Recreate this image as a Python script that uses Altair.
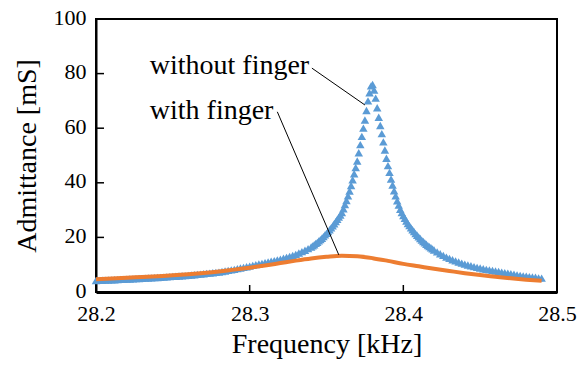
import altair as alt
import pandas as pd

# ---------------- data ----------------
# "without finger" (blue triangles): frequency [kHz] and admittance [mS]
blue_freq = [
    28.200, 28.202, 28.204, 28.206, 28.208, 28.210, 28.212, 28.214, 28.216, 28.218,
    28.220, 28.222, 28.224, 28.226, 28.228, 28.230, 28.232, 28.234, 28.236, 28.238,
    28.240, 28.242, 28.244, 28.246, 28.248, 28.250, 28.252, 28.254, 28.256, 28.258,
    28.260, 28.262, 28.264, 28.266, 28.268, 28.270, 28.272, 28.274, 28.276, 28.278,
    28.280, 28.282, 28.284, 28.286, 28.288, 28.290, 28.292, 28.294, 28.296, 28.298,
    28.300, 28.302, 28.304, 28.306, 28.308, 28.310, 28.312, 28.314, 28.316, 28.318,
    28.320, 28.322, 28.324, 28.326, 28.328, 28.330, 28.332, 28.334, 28.336, 28.338,
    28.340, 28.341, 28.342, 28.343, 28.344, 28.345, 28.346, 28.347, 28.348, 28.349,
    28.350, 28.351, 28.352, 28.353, 28.354, 28.355, 28.356, 28.357, 28.358, 28.359,
    28.360, 28.361, 28.362, 28.363, 28.364, 28.365, 28.366, 28.367, 28.368, 28.369,
    28.370, 28.371, 28.372, 28.373, 28.374, 28.375, 28.376, 28.377, 28.378, 28.379,
    28.380, 28.381, 28.382, 28.383, 28.384, 28.385, 28.386, 28.387, 28.388, 28.389,
    28.390, 28.391, 28.392, 28.393, 28.394, 28.395, 28.396, 28.397, 28.398, 28.399,
    28.400, 28.401, 28.402, 28.403, 28.404, 28.405, 28.406, 28.407, 28.408, 28.409,
    28.410, 28.411, 28.412, 28.413, 28.414, 28.415, 28.416, 28.417, 28.418, 28.419,
    28.420, 28.422, 28.424, 28.426, 28.428, 28.430, 28.432, 28.434, 28.436, 28.438,
    28.440, 28.442, 28.444, 28.446, 28.448, 28.450, 28.452, 28.454, 28.456, 28.458,
    28.460, 28.462, 28.464, 28.466, 28.468, 28.470, 28.472, 28.474, 28.476, 28.478,
    28.480, 28.482, 28.484, 28.486, 28.488, 28.490,
]
blue_adm = [
    4.20, 4.25, 4.30, 4.35, 4.40, 4.45, 4.50, 4.55, 4.60, 4.65,
    4.70, 4.76, 4.82, 4.88, 4.94, 5.00, 5.06, 5.12, 5.18, 5.24,
    5.30, 5.38, 5.46, 5.54, 5.62, 5.70, 5.78, 5.86, 5.94, 6.02,
    6.10, 6.21, 6.32, 6.44, 6.56, 6.68, 6.80, 6.93, 7.06, 7.18,
    7.30, 7.50, 7.70, 7.90, 8.10, 8.30, 8.55, 8.80, 9.00, 9.25,
    9.50, 9.75, 10.00, 10.25, 10.50, 10.75, 11.00, 11.25, 11.50, 11.75,
    12.00, 12.35, 12.70, 13.05, 13.40, 13.80, 14.30, 14.80, 15.30, 15.90,
    16.50, 16.90, 17.30, 17.80, 18.20, 18.70, 19.20, 19.70, 20.30, 20.90,
    21.50, 22.10, 22.80, 23.50, 24.20, 25.00, 25.80, 26.60, 27.40, 28.20,
    29.10, 30.50, 32.00, 33.50, 35.20, 37.00, 39.00, 41.10, 43.30, 45.60,
    48.00, 51.00, 54.00, 57.00, 60.00, 63.00, 66.50, 70.00, 73.00, 75.50,
    76.00, 74.00, 71.00, 67.50, 64.00, 61.00, 58.00, 55.00, 52.00, 49.00,
    46.30, 43.80, 41.40, 39.20, 37.10, 35.20, 33.40, 31.80, 30.30, 29.10,
    28.00, 27.00, 26.00, 25.10, 24.30, 23.50, 22.80, 22.10, 21.40, 20.80,
    20.20, 19.60, 19.00, 18.50, 18.00, 17.50, 17.00, 16.60, 16.20, 15.80,
    15.40, 14.70, 14.00, 13.40, 12.80, 12.30, 11.80, 11.40, 11.00, 10.60,
    10.20, 9.90, 9.60, 9.30, 9.00, 8.80, 8.50, 8.30, 8.10, 7.90,
    7.70, 7.50, 7.30, 7.10, 6.90, 6.70, 6.50, 6.30, 6.10, 5.90,
    5.80, 5.60, 5.50, 5.40, 5.20, 5.10,
]

# "with finger" (orange line)
orange_freq = [
    28.20, 28.21, 28.22, 28.23, 28.24, 28.25, 28.26, 28.27, 28.28, 28.29,
    28.30, 28.31, 28.32, 28.33, 28.34, 28.35, 28.36, 28.37, 28.38, 28.39,
    28.40, 28.41, 28.42, 28.43, 28.44, 28.45, 28.46, 28.47, 28.48, 28.49,
]
orange_adm = [
    4.70, 4.95, 5.20, 5.50, 5.80, 6.10, 6.50, 6.95, 7.50, 8.20,
    8.90, 9.70, 10.60, 11.50, 12.30, 12.90, 13.30, 13.10, 12.40, 11.40,
    10.30, 9.40, 8.50, 7.70, 6.90, 6.20, 5.60, 5.00, 4.50, 4.10,
]

# annotations: label text, label anchor, leader line start/end (data units)
ann_text = ["without finger", "with finger"]
ann_x = [28.235, 28.235]
ann_y = [80.0, 63.5]
lead_x1 = [28.3405, 28.318]
lead_y1 = [82.0, 66.0]
lead_x2 = [28.375, 28.358]
lead_y2 = [68.5, 13.6]

x_ticks = [28.2, 28.3, 28.4, 28.5]
y_ticks = [0, 20, 40, 60, 80, 100]

# ---------------- chart ----------------
W, H = 461, 273
FONT = "Liberation Serif"

blue_df = pd.DataFrame({"f": blue_freq, "y": blue_adm})
orange_df = pd.DataFrame({"f": orange_freq, "y": orange_adm})
ann_df = pd.DataFrame({"t": ann_text, "x": ann_x, "y": ann_y})
lead_df = pd.DataFrame({"x1": lead_x1, "y1": lead_y1, "x2": lead_x2, "y2": lead_y2})
xt_df = pd.DataFrame({"v": x_ticks})
yt_df = pd.DataFrame({"v": y_ticks})

xscale = alt.Scale(domain=[28.2, 28.5], nice=False, zero=False)
yscale = alt.Scale(domain=[0, 100], nice=False)

xaxis = alt.Axis(
    values=x_ticks, format=".1f", title="Frequency [kHz]", grid=False,
    ticks=False, tickSize=0, labelPadding=11, labelFontSize=22, labelFont=FONT,
    labelFlush=False, labelColor="black", titleFont=FONT, titleFontSize=28,
    titleFontWeight="normal", titleColor="black", titlePadding=6,
    domainColor="black", domainWidth=3,
)
yaxis = alt.Axis(
    values=y_ticks, format="d", title="Admittance [mS]", grid=False,
    ticks=False, tickSize=0, labelPadding=10, labelOffset=-2, labelFontSize=22,
    labelFont=FONT, labelFlush=False, labelColor="black", titleFont=FONT,
    titleFontSize=28, titleFontWeight="normal", titleColor="black",
    titlePadding=12, domainColor="black", domainWidth=2,
)

blue = alt.Chart(blue_df).mark_point(
    shape="triangle-up", filled=True, size=72, color="#5B9BD5", opacity=1
).encode(
    x=alt.X("f:Q", scale=xscale, axis=xaxis),
    y=alt.Y("y:Q", scale=yscale, axis=yaxis),
)

orange = alt.Chart(orange_df).mark_line(
    color="#ED7D31", strokeWidth=4, interpolate="monotone"
).encode(x=alt.X("f:Q", scale=xscale), y=alt.Y("y:Q", scale=yscale))

leaders = alt.Chart(lead_df).mark_rule(color="black", strokeWidth=1).encode(
    x=alt.X("x1:Q", scale=xscale), y=alt.Y("y1:Q", scale=yscale),
    x2="x2:Q", y2="y2:Q",
)

labels = alt.Chart(ann_df).mark_text(
    align="left", baseline="alphabetic", font=FONT, fontSize=28, color="black"
).encode(x=alt.X("x:Q", scale=xscale), y=alt.Y("y:Q", scale=yscale), text="t:N")

xticks = alt.Chart(xt_df).mark_rule(color="black", strokeWidth=1.5).encode(
    x=alt.X("v:Q", scale=xscale), y=alt.value(H), y2=alt.value(H - 7)
)
yticks = alt.Chart(yt_df).mark_rule(color="black", strokeWidth=1.5).encode(
    y=alt.Y("v:Q", scale=yscale), x=alt.value(0), x2=alt.value(8)
)

chart = alt.layer(blue, orange, leaders, labels, xticks, yticks).properties(
    width=W, height=H,
    autosize=alt.AutoSizeParams(type="none"),
    padding={"left": 96, "top": 19, "right": 28, "bottom": 73},
    background="white",
).configure_view(stroke="black", strokeWidth=2)

chart.save("out.html", embed_options={"renderer": "svg", "actions": False})
